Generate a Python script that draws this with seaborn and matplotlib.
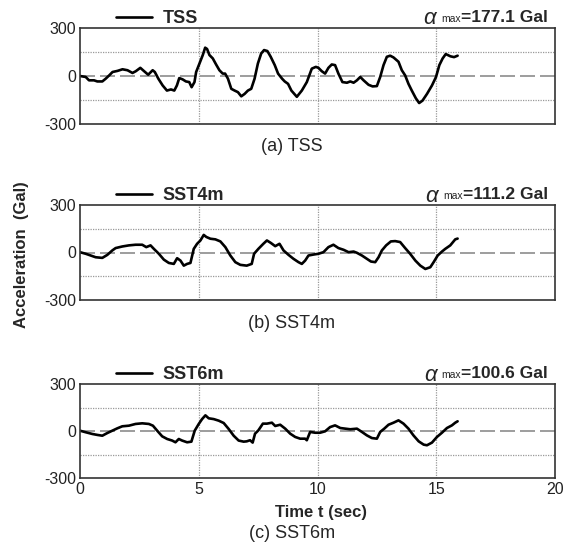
import matplotlib
matplotlib.use('Agg')
import matplotlib.pyplot as plt
import seaborn as sns

# 각 지점 가속도 시간이력
t_tss = [0, 0.24, 0.38, 0.59, 0.73, 0.94, 1.08, 1.23, 1.37, 1.58, 1.79, 2.0, 2.21, 2.35, 2.54, 2.7, 2.87, 3.06,
         3.15, 3.3, 3.48, 3.66, 3.83, 3.97, 4.08, 4.18, 4.32, 4.46, 4.6, 4.7, 4.82, 4.89, 5.03, 5.17, 5.27, 5.35,
         5.45, 5.59, 5.73, 5.87, 6.01, 6.11, 6.23, 6.37, 6.51, 6.65, 6.79, 6.93, 7.07, 7.21, 7.35, 7.49, 7.63,
         7.75, 7.89, 8.03, 8.2, 8.34, 8.51, 8.62, 8.76, 8.9, 9.13, 9.34, 9.55, 9.76, 9.93, 10.04, 10.18, 10.32,
         10.46, 10.6, 10.74, 10.88, 11.05, 11.24, 11.38, 11.52, 11.66, 11.8, 11.94, 12.15, 12.32, 12.5, 12.64,
         12.78, 12.92, 13.06, 13.2, 13.41, 13.55, 13.69, 13.83, 13.97, 14.14, 14.28, 14.42, 14.61, 14.82, 14.99,
         15.13, 15.27, 15.4, 15.6, 15.75, 15.9]
a_tss = [0, -6, -27, -27, -34, -34, -17, 4, 25, 32, 42, 36, 19, 30, 51, 30, 8, 36, 25, -17, -59, -91, -84, -91,
         -59, -13, -21, -34, -38, -70, -38, 25, 78, 131, 177, 169, 131, 110, 72, 36, 15, 15, -17, -80, -91, -101,
         -127, -112, -91, -80, -17, 78, 141, 162, 156, 120, 68, 15, -17, -34, -49, -91, -130, -91, -38, 46, 57,
         51, 30, 15, 51, 72, 68, 15, -38, -42, -34, -42, -27, -6, -27, -55, -65, -63, -6, 68, 120, 127, 116, 89,
         36, 4, -49, -91, -139, -169, -154, -112, -59, -6, 68, 110, 137, 123, 118, 127]

t_sst4 = [0, 0.24, 0.45, 0.66, 0.94, 1.15, 1.36, 1.5, 1.78, 2.06, 2.34, 2.62, 2.79, 2.97, 3.11, 3.32, 3.53, 3.74,
          3.95, 4.09, 4.23, 4.37, 4.51, 4.65, 4.79, 4.93, 5.07, 5.21, 5.32, 5.49, 5.7, 5.91, 6.12, 6.33, 6.54,
          6.75, 7.02, 7.23, 7.33, 7.51, 7.72, 7.87, 8.03, 8.22, 8.4, 8.57, 8.78, 8.99, 9.2, 9.34, 9.48, 9.62,
          9.83, 10.04, 10.25, 10.46, 10.67, 10.88, 11.1, 11.31, 11.52, 11.66, 11.87, 12.08, 12.25, 12.43, 12.57,
          12.71, 12.89, 13.09, 13.27, 13.48, 13.69, 13.9, 14.12, 14.33, 14.54, 14.75, 14.89, 15.06, 15.24, 15.38,
          15.59, 15.8, 15.9]
a_sst4 = [2, -8, -19, -30, -34, -15, 13, 28, 38, 45, 49, 49, 34, 45, 23, -8, -45, -66, -72, -36, -51, -83, -72,
          -66, 23, 55, 76, 111, 98, 87, 83, 70, 34, -19, -61, -78, -83, -72, -8, 23, 55, 76, 61, 40, 55, 13, -15,
          -40, -61, -72, -51, -19, -13, -8, 2, 34, 49, 28, 17, 2, 6, -2, -19, -40, -57, -61, -30, 13, 45, 70, 72,
          66, 28, -8, -51, -83, -104, -93, -61, -19, 6, 23, 45, 83, 88]

t_sst6 = [0, 0.24, 0.52, 0.73, 0.94, 1.15, 1.36, 1.57, 1.78, 2.06, 2.34, 2.62, 2.9, 3.07, 3.25, 3.46, 3.67, 3.88,
          4.02, 4.16, 4.3, 4.51, 4.69, 4.83, 5.0, 5.14, 5.28, 5.42, 5.63, 5.84, 6.05, 6.26, 6.47, 6.68, 6.89,
          7.02, 7.16, 7.27, 7.37, 7.51, 7.7, 7.87, 8.08, 8.22, 8.43, 8.64, 8.85, 9.06, 9.27, 9.48, 9.55, 9.69,
          9.9, 10.11, 10.32, 10.53, 10.74, 10.96, 11.17, 11.38, 11.66, 11.87, 12.08, 12.29, 12.5, 12.64, 12.81,
          12.99, 13.2, 13.41, 13.62, 13.83, 14.04, 14.26, 14.47, 14.61, 14.82, 15.03, 15.24, 15.45, 15.66, 15.8,
          15.9]
a_sst6 = [2, -8, -19, -25, -30, -13, 2, 17, 30, 34, 45, 49, 45, 34, 2, -34, -51, -61, -72, -51, -61, -72, -68, 2,
          45, 76, 100, 81, 76, 66, 51, 13, -30, -61, -68, -66, -59, -74, -17, 4, 47, 47, 53, 32, 40, 15, -17, -38,
          -49, -49, -59, -6, -11, -11, -2, 25, 36, 19, 15, 11, 15, -6, -28, -45, -49, -6, 15, 40, 53, 68, 47, 15,
          -28, -66, -87, -91, -74, -38, -11, 19, 36, 53, 62]

names = ['TSS', 'SST4m', 'SST6m']
captions = ['(a) TSS', '(b) SST4m', '(c) SST6m']
amax = [177.1, 111.2, 100.6]
series = [(t_tss, a_tss), (t_sst4, a_sst4), (t_sst6, a_sst6)]

sns.set_style('white')
plt.rcParams['font.family'] = ['Liberation Sans', 'DejaVu Sans']
plt.rcParams['mathtext.fontset'] = 'custom'
plt.rcParams['mathtext.it'] = 'Liberation Sans:italic'
plt.rcParams['mathtext.rm'] = 'Liberation Sans'
plt.rcParams['axes.unicode_minus'] = False

W, H = 572, 546
fig = plt.figure(figsize=(W / 100, H / 100), dpi=100)

# 패널 위치 (픽셀: 위, 아래)
rows = [(28, 124), (205, 300), (384, 478)]
left, right = 80, 555

for i, ((top, bot), (t, a)) in enumerate(zip(rows, series)):
    ax = fig.add_axes([left / W, 1 - bot / H, (right - left) / W, (bot - top) / H])
    sns.lineplot(x=t, y=a, ax=ax, color='black', lw=1.9, label=names[i])

    ax.set_xlim(0, 20)
    ax.set_ylim(-300, 300)
    ax.set_xticks([0, 5, 10, 15, 20])
    ax.set_yticks([-300, 0, 300])
    ax.grid(False)
    for x in [5, 10, 15]:
        ax.axvline(x, color='#999999', lw=0.9, ls=(0, (1, 1)), zorder=0)
    for y in [-150, 150]:
        ax.axhline(y, color='#999999', lw=0.9, ls=(0, (1, 1)), zorder=0)
    ax.axhline(0, color='#8c8c8c', lw=1.2, ls=(0, (9, 3)), zorder=0)

    for s in ax.spines.values():
        s.set_color('#333333')
        s.set_linewidth(1.2)
    ax.tick_params(axis='both', which='both', length=0, labelsize=11.5, pad=3, colors='#222222')
    if i < 2:
        ax.set_xticklabels([])

    ax.legend(loc='lower left', bbox_to_anchor=(0.072, 0.99), frameon=False,
              handlelength=2.0, handletextpad=0.6, borderpad=0, borderaxespad=0.1,
              prop={'weight': 'bold', 'size': 13})

    t1 = ax.text(0.985, 1.03, '=%.1f Gal' % amax[i], transform=ax.transAxes,
                 ha='right', va='bottom', fontsize=12.5, fontweight='bold')
    t2 = ax.annotate('max', xy=(0, 0.08), xycoords=t1, ha='right', va='bottom', fontsize=7.5)
    ax.annotate(r'$\alpha$', xy=(0, 0), xycoords=t2, xytext=(-2, -4), textcoords='offset points',
                ha='right', va='bottom', fontsize=16)

    fig.text(292 / W, 1 - (bot + 23) / H if i < 2 else 1 - 533 / H, captions[i],
             ha='center', va='center', fontsize=13)

fig.text(321 / W, 1 - 512 / H, 'Time t (sec)', ha='center', va='center', fontsize=12, fontweight='bold')
fig.text(22 / W, 1 - 255 / H, 'Acceleration  (Gal)', ha='center', va='center', rotation=90,
         fontsize=12, fontweight='bold')

fig.savefig('out.png', dpi=100)
